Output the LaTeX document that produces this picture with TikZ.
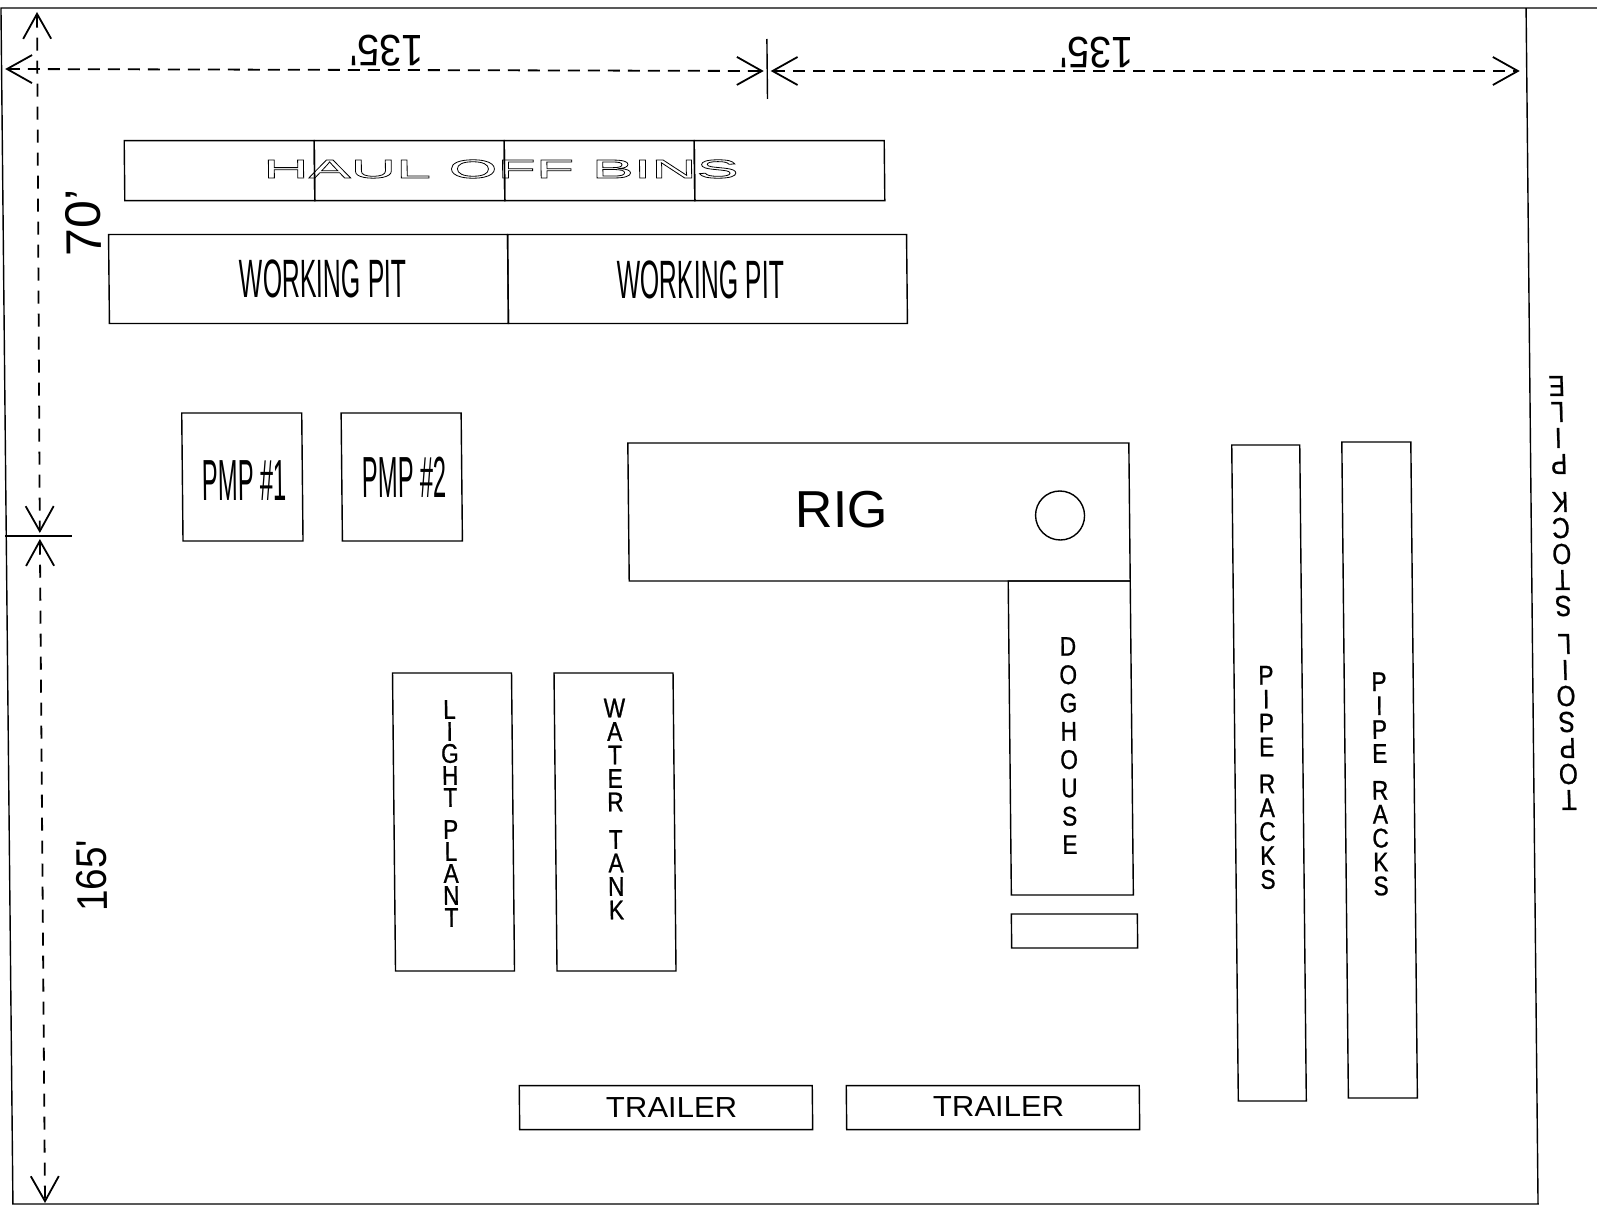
\documentclass[tikz,border=0pt]{standalone}
\usepackage{fontspec}
\setmainfont{Liberation Sans}
\newfontfamily\narrowfont[FakeStretch=0.46]{Liberation Sans}
\newfontfamily\pmpfont[FakeStretch=0.41]{Liberation Sans}
\newfontfamily\stackfont[FakeStretch=0.84,FakeBold=0.8]{Liberation Sans}
\newfontfamily\widefont[FakeStretch=2.42]{Liberation Sans}
\newfontfamily\dimfont[FakeStretch=0.9]{Liberation Sans}
\newfontfamily\trailerfont[FakeStretch=1.07]{Liberation Sans}
\newcommand{\outlined}[1]{\special{pdf:code 1 Tr 0.8 w}#1\special{pdf:code 0 Tr}}
\usetikzlibrary{positioning,arrows.meta}
\tikzset{
  box/.style 2 args={draw, rectangle, line width=1.4pt, outer sep=0pt, inner sep=0pt,
    minimum width=#1pt, minimum height=#2pt},
  pitlabel/.style={font=\narrowfont\fontsize{54}{54}\selectfont},
  pmplabel/.style={inner sep=0pt, font=\pmpfont\fontsize{58}{58}\selectfont},
  stacklabel/.style={align=center, inner sep=0pt, font=\stackfont\fontsize{27}{#1}\selectfont},
  trailerlabel/.style={inner sep=0pt, font=\trailerfont\fontsize{29}{29}\selectfont},
  dimlabel/.style={inner sep=0pt, font=\dimfont\fontsize{#1}{#1}\selectfont},
  dimline/.style={line width=1.8pt, dash pattern=on 12pt off 8pt,
    {Straight Barb[length=25pt,width=28pt]}-{Straight Barb[length=25pt,width=28pt]}},
  dimlinev/.style={dimline, dash pattern=on 13pt off 10pt},
}
\begin{document}
\begin{tikzpicture}[x=1pt, y=-1pt]
  \useasboundingbox (0,0) rectangle (1597,1206);
  \begin{scope}[xslant=-0.01, every node/.style={transform shape}]
    % site boundary
    \draw[line width=1.4pt] (1597,8) -- (0.9,8) -- (0.9,1204) -- (1526,1204) -- (1526,8);

    % bins and pits
    \node[box={190}{60}] (binone) at (217.8,170.6) {};
    \node[box={190}{60}, right=0pt of binone] (bintwo) {};
    \node[box={190}{60}, right=0pt of bintwo] (binthree) {};
    \node[box={190}{60}, right=0pt of binthree] (binfour) {};
    \node[inner sep=0pt, font=\widefont\fontsize{26}{26}\selectfont] (binlabel) at (499.3,169) {\outlined{HAUL OFF BINS}};
    \node[box={399}{89}] (pitone) at (305.7,279) {};
    \node[box={399}{89}, right=0pt of pitone] (pittwo) {};
    \node[pitlabel] (pitonelabel) at (320.2,279) {WORKING PIT};
    \node[pitlabel] (pittwolabel) at (697.7,280) {WORKING PIT};

    % pumps
    \node[box={120}{128}] (pmpone) at (237.6,477) {};
    \node[box={120}{128}] (pmptwo) at (397,477) {};
    \node[pmplabel] (pmponelabel) at (239.7,481) {PMP \#1};
    \node[pmplabel] (pmptwolabel) at (399.7,477) {PMP \#2};

    % rig and doghouse
    \node[box={501}{138}] (rig) at (873.9,512) {};
    \node[inner sep=0pt, font=\fontsize{52}{52}\selectfont] (riglabel) at (836.9,510) {RIG};
    \node[draw, circle, line width=1.4pt, minimum size=49pt, inner sep=0pt] (rigwell) at (1054.9,515.5) {};
    \node[box={122}{314}, anchor=north east] (doghouse) at (rig.south east) {};
    \node[stacklabel=28.3] (doglabel) at (1061.5,745.5) {D\\O\\G\\H\\O\\U\\S\\E};
    \node[box={126}{34}] (stepbox) at (1065.2,931) {};

    % plant and tank
    \node[box={119}{298}] (light) at (445.3,822) {};
    \node[box={119}{298}] (water) at (606.8,822) {};
    \node[stacklabel=22] (lightlabel) at (442.4,813.5) {L\\I\\G\\H\\T\\[10pt]P\\L\\A\\N\\T};
    \node[stacklabel=23.5] (waterlabel) at (607.4,809) {W\\A\\T\\E\\R\\[14pt]T\\A\\N\\K};

    % pipe racks
    \node[box={68}{656}] (rackone) at (1261.3,773) {};
    \node[box={69}{656}] (racktwo) at (1371.9,770) {};
    \node[stacklabel=23.9] (rackonelabel) at (1259.2,777.5) {P\\I\\P\\E\\[13pt]R\\A\\C\\K\\S};
    \node[stacklabel=23.9] (racktwolabel) at (1372.2,784) {P\\I\\P\\E\\[13pt]R\\A\\C\\K\\S};

    % trailers
    \node[box={293}{44}] (trailerone) at (654.9,1107.6) {};
    \node[box={293}{44}] (trailertwo) at (981.9,1107.6) {};
    \node[trailerlabel] (traileronelabel) at (660.5,1108) {TRAILER};
    \node[trailerlabel] (trailertwolabel) at (987.5,1107) {TRAILER};

    % stock pile, upside down
    \node[align=center, inner sep=0pt, rotate=180, xslant=-0.02, font=\stackfont\fontsize{29}{26}\selectfont] (stockpile) at (1557,593)
      {T\\O\\P\\S\\O\\I\\L\\[12pt]S\\T\\O\\C\\K\\[12pt]P\\I\\L\\E};

    % dimensions
    \coordinate (westend) at (4.5,69);
    \coordinate (midleft) at (763,71);
    \coordinate (midright) at (770,71);
    \coordinate (eastend) at (1519,71);
    \coordinate (midtop) at (766.5,39);
    \coordinate (midbot) at (766.5,99);
    \coordinate (northend) at (36.9,12);
    \coordinate (splitup) at (34.5,533);
    \coordinate (splitdown) at (34.5,539);
    \coordinate (southend) at (33,1203);
    \coordinate (splitleft) at (0,536);
    \coordinate (splitright) at (67,536);
    \draw[dimline] (westend) -- (midleft);
    \draw[dimline] (midright) -- (eastend);
    \draw[line width=1.4pt] (midtop) -- (midbot);
    \draw[dimlinev] (northend) -- (splitup);
    \draw[dimlinev] (splitdown) -- (southend);
    \draw[line width=1.6pt] (splitleft) -- (splitright);
    \node[dimlabel=44, rotate=180] (topleftdim) at (386,51) {135'};
    \node[dimlabel=44, rotate=180] (toprightdim) at (1096,53) {135'};
    \node[inner sep=0pt, rotate=90, font=\fontsize{50}{50}\selectfont] (upperdim) at (81.3,223) {70'};
    \node[dimlabel=43, rotate=90] (lowerdim) at (83.2,876) {165'};
  \end{scope}
\end{tikzpicture}
\end{document}
